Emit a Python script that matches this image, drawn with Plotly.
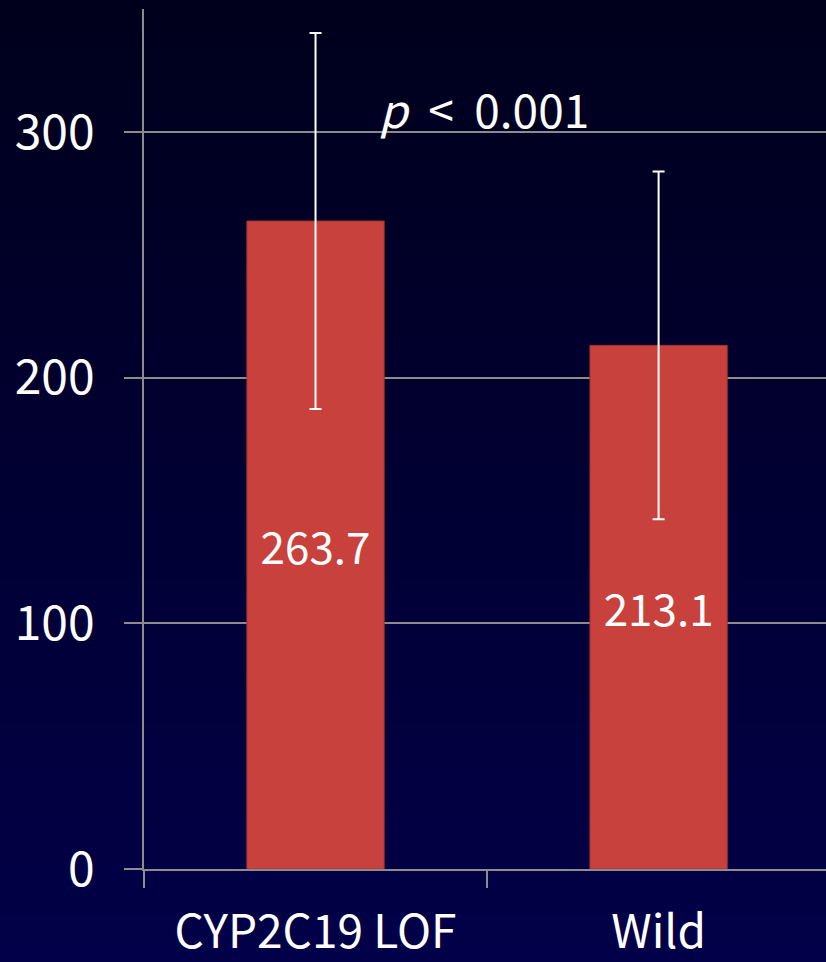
import plotly.graph_objects as go

categories = ["CYP2C19 LOF", "Wild"]
means = [263.7, 213.1]
sds = [76.5, 70.8]
bar_labels = ["263.7", "213.1"]
y_ticks = [0, 100, 200, 300]

W, H = 826, 962
L, R, T, B = 144, 0, 9, 93

FONT = "Noto Sans CJK KR, Open Sans, sans-serif"

fig = go.Figure()
fig.add_trace(go.Bar(
    x=categories, y=means, width=0.4,
    marker=dict(color="#c9413c", line=dict(color="#a53430", width=1)),
    error_y=dict(type="data", array=sds, visible=True, color="white", thickness=2, width=6),
    text=bar_labels, textposition="inside", insidetextanchor="middle",
    textfont=dict(color="white", size=44, family=FONT),
    textangle=0,
    showlegend=False,
))

# background gradient via paper shapes
pw = W - L - R
ph = H - T - B
y_lo = -(B) / ph
y_hi = 1 + T / ph
x_lo = -L / pw
x_hi = 1 + R / pw + 0.01
n = 60
top = (0, 0, 28)
bot = (2, 0, 72)
shapes = []
for i in range(n):
    f0 = i / n
    f1 = (i + 1) / n
    yy0 = y_lo + (y_hi - y_lo) * f0
    yy1 = y_lo + (y_hi - y_lo) * f1 + 0.002
    t = 1 - (f0 + f1) / 2  # 0 at top, 1 at bottom
    c = tuple(round(top[k] + (bot[k] - top[k]) * t) for k in range(3))
    shapes.append(dict(type="rect", xref="paper", yref="paper", x0=x_lo, x1=x_hi,
                       y0=yy0, y1=yy1, fillcolor="rgb(%d,%d,%d)" % c,
                       line=dict(width=0), layer="below"))

fig.update_layout(
    width=W, height=H, autosize=False,
    margin=dict(l=L, r=R, t=T, b=B, pad=0, autoexpand=False),
    paper_bgcolor="#000030", plot_bgcolor="rgba(0,0,0,0)",
    shapes=shapes,
    font=dict(family=FONT, color="white"),
    bargap=0.6,
    xaxis=dict(
        range=[-0.5, 1.488], showgrid=False, automargin=False,
        showline=True, linecolor="#8c8c8c", linewidth=1.5,
        ticks="outside", ticklen=17, tickcolor="#8c8c8c", tickwidth=1.5,
        tickson="boundaries",
        tickfont=dict(size=46, color="white", family=FONT),
        ticklabelstandoff=22,
    ),
    yaxis=dict(
        range=[0, 350], tickvals=y_ticks, automargin=False,
        showgrid=True, gridcolor="#8c8c8c", gridwidth=1.5,
        showline=True, linecolor="#8c8c8c", linewidth=1.5,
        ticks="outside", ticklen=18, tickcolor="#8c8c8c", tickwidth=1.5,
        tickfont=dict(size=48, color="white", family=FONT),
        ticklabelstandoff=20,
        zeroline=False,
    ),
    annotations=[dict(
        x=(484 - L) / pw, xref="paper", y=(H - B - 108) / ph, yref="paper",
        xanchor="center", yanchor="middle",
        text="<i>p</i>&nbsp; &lt;&nbsp; 0.001", showarrow=False,
        font=dict(size=46, color="white", family=FONT),
    )],
)

fig.write_html(
    "out.html",
    config=dict(displayModeBar=False, responsive=False),
    post_script="document.body.style.margin='0';document.body.style.overflow='hidden';",
)
